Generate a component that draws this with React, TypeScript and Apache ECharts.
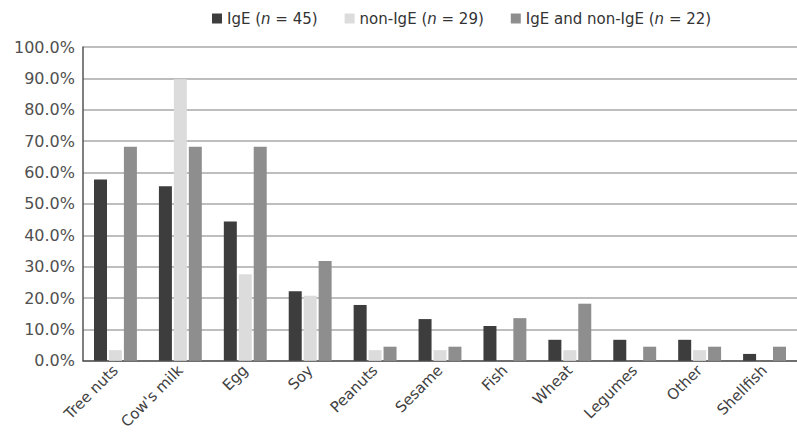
import React, { useEffect, useRef } from "react";
import * as echarts from "echarts";

const categories = ["Tree nuts", "Cow's milk", "Egg", "Soy", "Peanuts", "Sesame", "Fish", "Wheat", "Legumes", "Other", "Shellfish"];
const seriesNames = ["IgE (n = 45)", "non-IgE (n = 29)", "IgE and non-IgE (n = 22)"];
const legendLabels = ["IgE ({i|n} = 45)", "non-IgE ({i|n} = 29)", "IgE and non-IgE ({i|n} = 22)"];
const igeValues = [57.8, 55.6, 44.4, 22.2, 17.8, 13.3, 11.1, 6.7, 6.7, 6.7, 2.2];
const nonIgeValues = [3.4, 89.7, 27.6, 20.7, 3.4, 3.4, 0, 3.4, 0, 3.4, 0];
const bothValues = [68.2, 68.2, 68.2, 31.8, 4.5, 4.5, 13.6, 18.2, 4.5, 4.5, 4.5];
const colors = ["#3d3d3d", "#dcdcdc", "#8e8e8e"];

export default function App() {
  const ref = useRef<HTMLDivElement>(null);
  useEffect(() => {
    if (!ref.current) return;
    const chart = echarts.init(ref.current, undefined, { renderer: "svg" });
    const font = "DejaVu Sans";
    const allValues = [igeValues, nonIgeValues, bothValues];
    chart.setOption({
      animation: false,
      color: colors,
      textStyle: { fontFamily: font },
      legend: {
        top: 6,
        left: 207,
        itemWidth: 10,
        itemHeight: 10,
        itemGap: 27,
        icon: "rect",
        data: seriesNames,
        formatter: (name: string) => legendLabels[seriesNames.indexOf(name)],
        textStyle: {
          fontFamily: font,
          fontSize: 15,
          color: "#333",
          rich: { i: { fontStyle: "italic", fontFamily: font, fontSize: 15, color: "#333" } },
        },
      },
      grid: { left: 83, right: 0, top: 47, bottom: 70, containLabel: false },
      xAxis: {
        type: "category",
        data: categories,
        axisLine: { lineStyle: { color: "#555", width: 1.5 } },
        axisTick: { show: false },
        axisLabel: { rotate: 45, interval: 0, fontSize: 15, color: "#404040", margin: 7, fontFamily: font },
      },
      yAxis: {
        type: "value",
        min: 0,
        max: 100,
        interval: 10,
        axisLine: { show: true, lineStyle: { color: "#555", width: 1.5 } },
        axisTick: { show: false },
        splitLine: { lineStyle: { color: "#a8a8a8", width: 1.5 } },
        axisLabel: {
          fontSize: 16,
          color: "#505050",
          margin: 8,
          fontFamily: font,
          formatter: (v: number) => v.toFixed(1) + "%",
        },
      },
      series: seriesNames.map((name, i) => ({
        name,
        type: "bar",
        data: allValues[i],
        barWidth: 13,
        barGap: "15%",
        itemStyle: { color: colors[i] },
      })),
    });
    return () => chart.dispose();
  }, []);
  return <div ref={ref} style={{ width: 797, height: 432, position: "absolute", left: 0, top: 0 }} />;
}
